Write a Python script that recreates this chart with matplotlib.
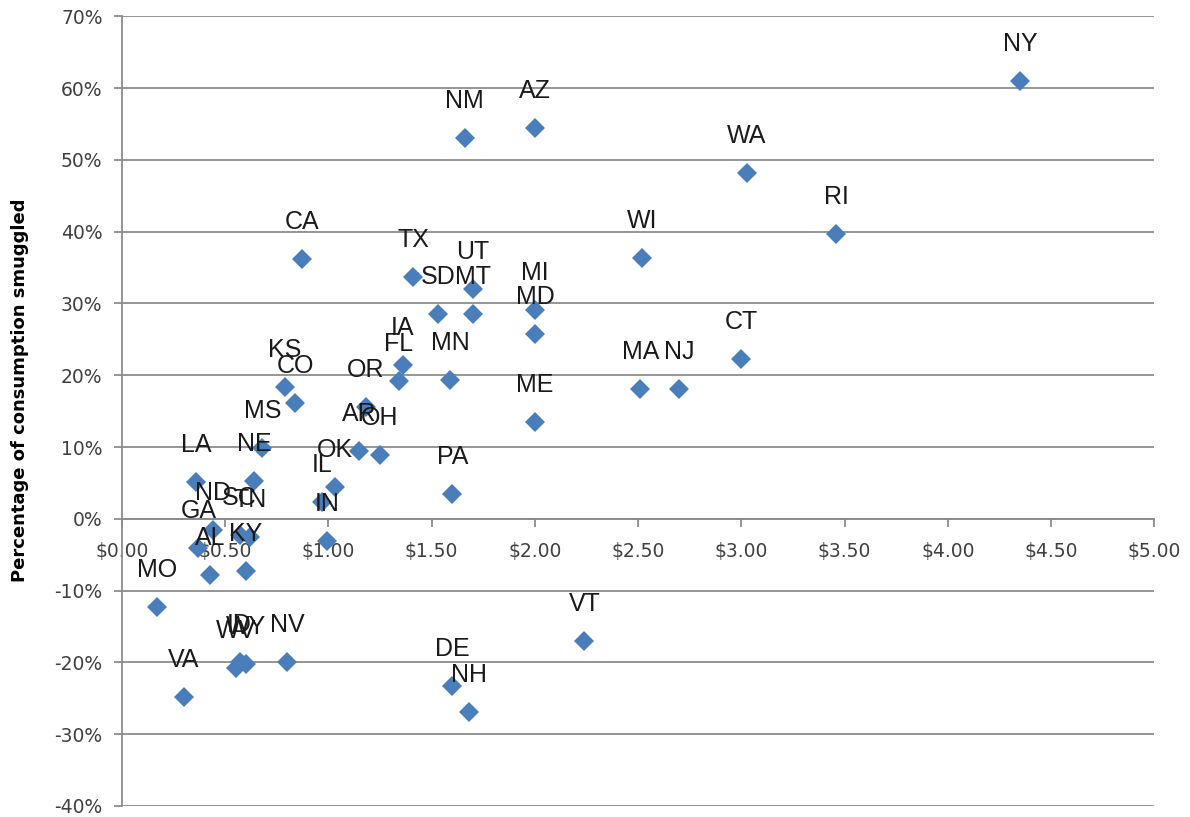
import matplotlib
matplotlib.use('Agg')
import matplotlib.pyplot as plt
from matplotlib.ticker import FuncFormatter, MultipleLocator

# State, cigarette tax ($ per pack), share of consumption smuggled (%)
states = ['NY', 'RI', 'WA', 'CT', 'NJ', 'MA', 'WI', 'AZ', 'MI', 'MD', 'ME', 'VT',
          'NM', 'UT', 'MT', 'TX', 'SD', 'MN', 'PA', 'DE', 'NH', 'IA', 'FL', 'OR',
          'AR', 'OH', 'OK', 'IL', 'IN', 'CA', 'KS', 'CO', 'MS', 'NE', 'LA', 'ND',
          'SC', 'TN', 'GA', 'AL', 'KY', 'MO', 'VA', 'WV', 'ID', 'WY', 'NV']
tax = [4.35, 3.46, 3.025, 3.00, 2.70, 2.51, 2.52, 2.00, 2.00, 2.00, 2.00, 2.24,
       1.66, 1.70, 1.70, 1.41, 1.53, 1.59, 1.60, 1.60, 1.68, 1.36, 1.34, 1.18,
       1.15, 1.25, 1.03, 0.97, 0.995, 0.87, 0.79, 0.84, 0.68, 0.64, 0.36, 0.44,
       0.57, 0.62, 0.37, 0.425, 0.60, 0.17, 0.30, 0.55, 0.57, 0.60, 0.80]
smuggled = [61.0, 39.7, 48.2, 22.3, 18.1, 18.1, 36.4, 54.5, 29.1, 25.8, 13.5, -17.0,
            53.1, 32.0, 28.6, 33.7, 28.6, 19.4, 3.4, -23.3, -26.9, 21.4, 19.2, 15.6,
            9.5, 8.9, 4.5, 2.4, -3.1, 36.2, 18.4, 16.2, 9.9, 5.3, 5.1, -1.5,
            -2.3, -2.6, -4.1, -7.8, -7.3, -12.3, -24.8, -20.8, -20.0, -20.2, -19.9]

grid_col = '#8c8c8c'
marker_col = '#4a7ebb'

fig = plt.figure(figsize=(11.9, 8.17), dpi=100)
ax = fig.add_axes([0.1025, 0.0135, 0.8675, 0.9665])

ax.plot(tax, smuggled, 'D', color=marker_col, markersize=10, markeredgewidth=0, zorder=3)

for s, x, y in zip(states, tax, smuggled):
    ax.annotate(s, (x, y), xytext=(0, 37), textcoords='offset pixels',
                ha='center', va='center', fontsize=18, color='#1a1a1a',
                family='Liberation Sans', zorder=4)

ax.set_xlim(0, 5)
ax.set_ylim(-40, 70)
ax.xaxis.set_major_locator(MultipleLocator(0.5))
ax.yaxis.set_major_locator(MultipleLocator(10))
ax.xaxis.set_major_formatter(FuncFormatter(lambda v, p: f'${v:.2f}'))
ax.yaxis.set_major_formatter(FuncFormatter(lambda v, p: f'{v:.0f}%'))

ax.grid(axis='y', color=grid_col, linewidth=1.3, zorder=0)
ax.set_axisbelow(True)

for sp in ['top', 'right']:
    ax.spines[sp].set_visible(False)
ax.spines['bottom'].set_position(('data', 0))
ax.spines['bottom'].set_color(grid_col)
ax.spines['bottom'].set_linewidth(1.3)
ax.spines['left'].set_color(grid_col)
ax.spines['left'].set_linewidth(1.3)

ax.tick_params(axis='x', direction='out', length=6, width=1.3, color=grid_col,
               labelsize=13.5, labelcolor='#404040', pad=11)
ax.tick_params(axis='y', direction='out', length=6, width=1.3, color=grid_col,
               labelsize=13.5, labelcolor='#404040', pad=8)

ax.set_ylabel('Percentage of consumption smuggled', fontsize=13, fontweight='bold',
              family=['Liberation Sans Narrow', 'DejaVu Sans'])
ax.yaxis.set_label_coords(-0.09, 0.527)

fig.savefig('out.png', dpi=100)
